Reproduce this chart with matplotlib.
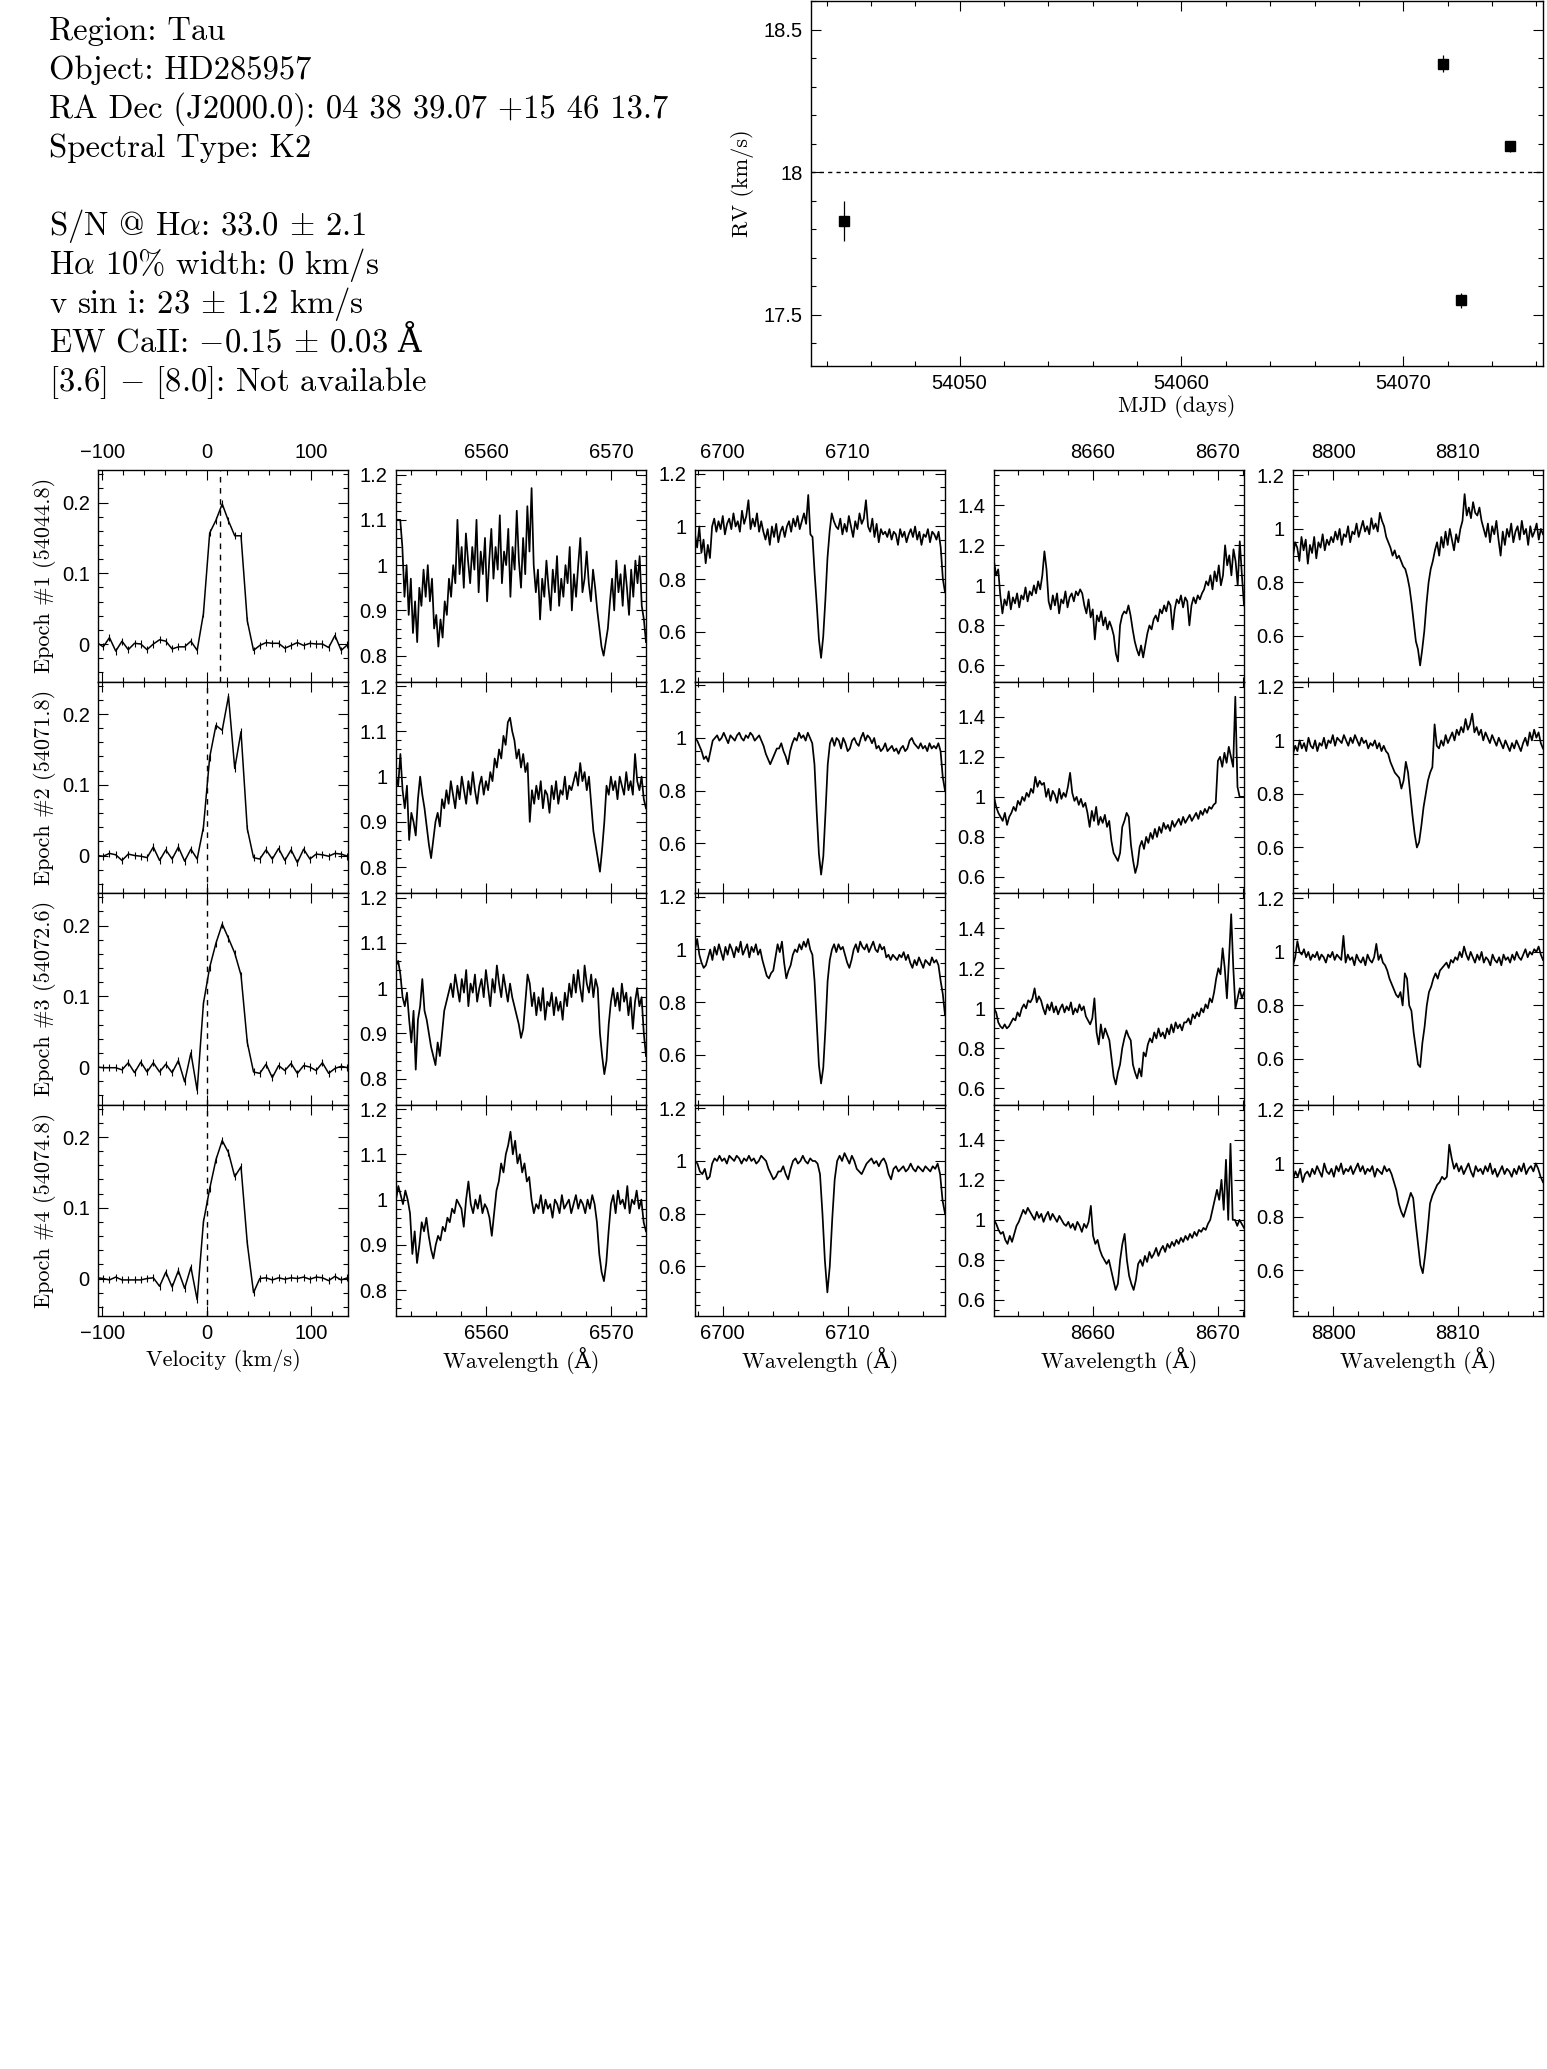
import numpy as np
import matplotlib
matplotlib.use('Agg')
import matplotlib.pyplot as plt
from matplotlib.ticker import MultipleLocator, FuncFormatter

plt.rcParams['mathtext.fontset'] = 'cm'
plt.rcParams['axes.unicode_minus'] = True

W, H = 1547, 2069

# ---- header info ----
info_lines = [
    'Region: Tau',
    'Object: HD285957',
    'RA Dec (J2000.0): 04 38 39.07 +15 46 13.7',
    'Spectral Type: K2',
    '',
    'S/N @ H$\\alpha$: 33.0 $\\pm$ 2.1',
    'H$\\alpha$ 10% width: 0 km/s',
    'v sin i: 23 $\\pm$ 1.2 km/s',
    'EW CaII: $-$0.15 $\\pm$ 0.03',
    '[3.6] $-$ [8.0]: Not available',
]
ew_unit = 'Å'

# ---- radial velocities ----
rv_mjd = [54044.8, 54071.8, 54072.6, 54074.8]
rv_val = [17.83, 18.38, 17.55, 18.09]
rv_err = [0.07, 0.03, 0.025, 0.02]
rv_ref = 18.0

# ---- H-alpha velocity profiles ----
epoch_labels = ['Epoch #1 (54044.8)', 'Epoch #2 (54071.8)',
                'Epoch #3 (54072.6)', 'Epoch #4 (54074.8)']
vel = [-105, -99, -93, -87, -81, -75, -69, -63, -57, -51, -45, -39, -33, -27,
       -21, -15, -9, -3, 3, 9, 15, 21, 27, 33, 39, 45, 51, 57, 63, 69, 75, 81,
       87, 93, 99, 105, 111, 117, 123, 129, 135]
prof1 = [0.002, -0.004, 0.009, -0.010, 0.004, -0.008, 0.001, 0.000, -0.008, 0.000,
         0.006, 0.004, -0.007, -0.004, -0.004, 0.004, -0.009, 0.043, 0.157, 0.175,
         0.198, 0.174, 0.153, 0.153, 0.033, -0.009, -0.002, 0.002, 0.001, 0.001,
         -0.006, -0.002, 0.002, -0.002, 0.001, 0.000, 0.000, -0.005, 0.012, -0.009, -0.001]
prof2 = [0.000, -0.001, 0.003, 0.001, -0.007, 0.002, 0.000, -0.001, -0.003, 0.012,
         -0.007, 0.008, -0.005, 0.012, -0.008, 0.009, -0.005, 0.040, 0.139, 0.184,
         0.177, 0.225, 0.123, 0.175, 0.038, -0.003, -0.005, 0.008, -0.005, 0.010,
         -0.007, 0.008, -0.010, 0.009, -0.005, 0.002, 0.001, -0.001, 0.003, 0.002, -0.001]
prof3 = [0.000, -0.001, -0.001, -0.001, -0.004, 0.006, -0.008, 0.007, -0.007, 0.006,
         -0.007, 0.004, -0.008, 0.009, -0.021, 0.020, -0.033, 0.090, 0.141, 0.175,
         0.202, 0.182, 0.161, 0.130, 0.035, -0.007, -0.009, 0.004, -0.015, 0.002,
         -0.005, 0.005, -0.009, 0.002, 0.000, -0.005, 0.006, -0.009, -0.002, 0.001, -0.001]
prof4 = [0.001, 0.000, -0.002, 0.002, -0.002, -0.002, -0.002, -0.002, 0.000, 0.001,
         -0.011, 0.009, -0.012, 0.011, -0.014, 0.016, -0.030, 0.080, 0.127, 0.168,
         0.195, 0.178, 0.144, 0.158, 0.050, -0.020, 0.000, 0.001, -0.002, 0.001,
         -0.001, 0.001, 0.000, 0.002, -0.001, 0.002, 0.001, -0.003, 0.003, -0.002, 0.001]
profiles = [prof1, prof2, prof3, prof4]
prof_err = 0.005
prof_center = [13, 0, 0, 0]

# ---- spectral windows (Angstrom) ----
windows = [(6552.8, 6572.8), (6697.8, 6717.8), (8652.1, 8672.1), (8796.8, 8816.8)]
win_ylim = [(0.743, 1.21), (0.41, 1.215), (0.52, 1.576), (0.43, 1.22)]
win_major = [0.1, 0.2, 0.2, 0.2]
win_minor = [0.02, 0.05, 0.05, 0.05]

# normalised flux, in percent
ha1 = [110, 110, 110, 104, 93, 100, 89, 97, 85, 92, 83, 95, 91, 99, 93, 100, 92, 97,
       86, 89, 82, 88, 84, 92, 89, 97, 93, 100, 96,
       110, 98, 104, 95, 107, 101, 96, 104, 99, 110, 94, 103, 98, 106, 92, 101, 108, 97,
       104, 99, 111, 96, 103, 100, 108, 93, 104, 99, 112, 101, 95, 106, 98, 113, 103, 117,
       100, 94,
       99, 88, 97, 93, 101, 95, 90, 99, 94, 102, 91, 97, 93, 100, 96, 104, 90, 98, 93, 100,
       106, 94, 97, 103, 96, 92, 99, 95,
       90, 86, 82, 80, 83, 86, 92,
       97, 90, 101, 94, 98, 91, 100, 95, 89, 99, 93, 101, 96, 102, 91, 88, 83]
ha2 = [100, 98, 105, 97, 93, 98, 86, 92, 90, 87, 95, 100, 96, 93, 89, 85, 82, 86,
       90, 92, 89, 95, 93, 97, 94, 99, 96, 93, 98, 95, 100, 97, 94, 99, 96, 101, 97, 94,
       98, 100, 96, 99, 97,
       101, 99, 104, 102, 106, 104, 109, 107, 112, 113, 110,
       108, 104, 106, 102, 105, 101, 103, 90,
       97, 94, 98, 95, 99, 93, 97, 96, 92, 98, 95, 99, 94, 97, 96, 100, 95, 98, 97, 99,
       101, 98, 103, 99, 101, 97, 100,
       94, 88, 85, 82, 79, 84, 90,
       98, 96, 100, 97, 99, 95, 100, 98, 96, 101, 97, 99, 96, 105, 99, 97, 100, 95, 93]
ha3 = [105, 106, 103, 98, 96, 99, 93, 88, 95, 82, 93, 96, 102, 95, 93, 90, 87, 85, 83,
       88, 85, 90, 95, 97, 99,
       101, 98, 103, 100, 97, 102, 99, 104, 96, 101, 99, 103, 97, 100, 102, 98, 104, 100,
       96, 102, 99, 105, 101, 98, 103, 100, 97, 101,
       98, 96, 94, 92, 89, 91, 97, 103, 101,
       96, 99, 94, 98, 95, 100, 93, 97, 96, 99, 94, 98, 95, 97, 93, 99, 96,
       101, 98, 103, 99, 104, 100, 97, 105, 101, 99, 103, 98, 102, 100,
       90, 85, 81, 84,
       92, 97, 100, 96, 99, 95, 101, 97, 99, 94, 98, 91, 97, 100, 96, 98, 90, 85]
ha4 = [100, 103, 101, 99, 102, 100, 97, 88, 93, 86, 90, 95, 93, 96, 92, 89, 87,
       90, 92, 91, 94, 93, 96, 95, 98, 97, 100, 99,
       98, 94, 100, 104, 99, 97, 100, 98, 101, 97, 99, 98, 96, 92, 97,
       102, 104, 108, 106, 110, 112, 115, 110, 113, 108, 110, 106, 108, 104, 105,
       100, 97, 99, 98, 101, 97, 100, 98, 99, 96, 100, 99, 97, 101, 98, 99, 100, 97, 99,
       101, 98, 100, 99, 97, 100, 98, 101, 99,
       95, 88, 84, 82, 86, 93,
       99, 101, 97, 102, 99, 100, 98, 103, 97, 100, 99, 102, 98, 100, 95, 93]

li1 = [97, 92, 100, 90, 95, 86, 93, 88,
       100, 103, 98, 102, 99, 104, 97, 101, 103, 99, 105, 100, 102, 98, 106, 101, 104, 110,
       99, 103, 100, 105, 98, 102,
       98, 95, 99, 93, 100, 96, 101, 94, 98, 100, 96,
       100, 102, 98, 103, 100, 104, 99, 102, 105, 101, 112, 97, 96,
       82, 70, 57, 50, 58, 72, 88, 98, 105, 102, 100,
       99, 103, 97, 101, 98, 104, 100, 96, 102, 99, 105, 101, 103, 110, 100, 98, 103, 96,
       101, 94, 99, 97,
       98, 96, 99, 95, 98, 97, 93, 99, 96, 98, 94, 97, 99, 96, 100, 95, 98, 93, 97, 96,
       99, 94, 98, 97, 95, 98, 92, 80, 75]
li2 = [100, 99, 97, 95, 92, 93, 91, 95,
       99, 100, 101, 99, 100, 102, 100, 98, 101, 100, 99, 101, 102, 100, 99, 101, 100, 102,
       101, 99, 100, 101, 99,
       97, 94, 92, 90, 92, 94, 96, 96, 98, 95, 93, 90,
       95, 98, 100, 99, 102, 100, 101, 99, 102, 100, 98,
       90, 72, 56, 48, 55, 72, 90,
       98, 100, 97, 100, 99, 96, 100, 98, 95, 96, 99, 100, 98, 97,
       100, 102, 99, 101, 100, 98, 100,
       96, 97, 95, 96, 98, 95, 96, 97, 95, 96, 94, 96, 97, 95, 96, 99, 100, 98,
       97, 96, 98, 96, 97, 95, 98, 96, 97, 96, 98, 95, 85, 80]
li3 = [100, 104, 98, 95, 93, 94,
       97, 100, 96, 101, 98, 102, 99, 96, 101, 98, 102, 100, 97, 101, 99, 103, 98, 100, 102,
       97, 101, 99, 102, 98, 100,
       96, 93, 90, 89, 91, 92, 97, 102, 99, 103, 95, 89, 92, 94,
       98, 100, 99, 102, 100, 103, 101, 104, 100, 98,
       88, 72, 56, 49, 55, 70, 88,
       96, 100, 102, 99, 102, 100, 101, 98, 95, 93, 96,
       100, 102, 99, 103, 101, 100, 102, 99, 101, 103, 100, 99, 102, 100, 101,
       97, 98, 96, 98, 97, 96, 98, 97, 99, 96, 98,
       95, 93, 96, 94, 97, 95, 93, 96, 95, 94, 97, 95, 96, 94, 88, 83, 75]
li4 = [100, 99, 96, 95, 97, 93, 94,
       99, 101, 100, 102, 100, 101, 99, 102, 101, 100, 102, 101, 99, 101, 100, 102, 100, 101,
       99, 100, 102, 101, 100,
       97, 95, 93, 94, 96, 96, 98, 95, 93,
       97, 100, 101, 99, 100, 102, 100, 99, 101, 100, 100, 99,
       95, 80, 62, 50, 60, 78, 93,
       100, 102, 100, 103, 101, 99, 102, 100, 97, 96, 95, 97,
       99, 100, 101, 99, 100, 98, 100, 101, 99, 95, 93,
       97, 98, 96, 97, 98, 96, 97, 99, 97, 96, 98, 97, 96, 98, 97, 96, 98, 97, 99,
       95, 85, 80]

ca1 = [112, 105, 108,
       95, 86, 93, 90, 97, 88, 94, 91, 96, 89, 95, 93, 99, 92, 97, 95, 100, 96, 102, 98,
       105, 117, 108,
       92, 88, 95, 90, 96, 86, 93, 91, 97, 89, 94, 96, 92, 97, 95, 98, 96,
       90, 86, 93, 84, 88, 73, 85, 82, 87, 80, 84, 78, 82, 79,
       75, 66, 62, 80, 85, 87, 86, 90, 85, 78, 72, 68, 65, 70, 64, 70,
       76, 80, 78, 83, 85, 82, 88, 86, 90, 87, 92,
       90, 78, 88, 93, 91, 95, 89, 94, 92, 80, 90, 94, 91, 95, 93, 96,
       98, 102, 100, 105, 98, 107, 102, 110, 100, 105,
       120, 110, 115, 105, 118, 112, 100, 122, 105, 90]
ca2 = [100, 95, 92, 90, 88, 92, 86, 90,
       92, 95, 93, 98, 96, 100, 98, 102, 100, 104, 102,
       110, 105, 108, 106, 107,
       100, 104, 98, 103, 101, 97, 104, 99, 102, 100, 105, 112,
       102, 98, 100, 96, 99, 95, 97,
       92, 85, 93, 88, 95, 86, 90, 87, 91, 85, 88,
       78, 72, 70, 68, 72, 85, 88, 92, 90, 76, 68, 62, 66,
       75, 78, 74, 80, 77, 82, 79, 84, 80, 85, 82, 87, 84, 86, 83, 88, 85, 87, 89, 86, 90,
       87, 89, 91, 88,
       90, 92, 89, 93, 91, 94, 92, 95, 94, 96, 97,
       118, 120, 115, 122, 117, 125, 120, 115, 150, 105, 100, 100, 100]
ca3 = [100, 98, 93, 91, 90, 92, 90, 91,
       93, 95, 94, 98, 96, 100, 102, 100, 104, 103, 105, 110, 103, 106, 104,
       100, 97, 102, 99, 103, 98, 101, 97, 100, 102, 98, 101, 99, 103, 97, 100, 98, 102, 99, 101,
       96, 94, 92, 95, 105,
       88, 82, 92, 85, 90, 87, 84,
       75, 66, 62, 68, 72, 80, 85, 89, 86, 84, 72, 68, 65, 70, 66,
       78, 76, 82, 85, 83, 88, 85, 90, 86, 88, 85, 90, 87, 92, 88, 93, 90, 92, 89, 93,
       93, 95, 92, 97, 95, 98, 96, 100, 98, 102, 100, 105, 103, 108,
       115, 120, 117, 130, 120, 105, 125, 147, 120, 100, 105, 110, 105, 108]
ca4 = [100, 98, 95, 93, 94, 90, 88, 92, 89,
       93, 97, 99, 102, 105, 103, 106, 104,
       102, 100, 104, 101, 103, 99, 102, 104, 100, 103, 101, 99, 102, 100, 98,
       97, 99, 96, 98, 95, 99, 97, 94, 98, 96, 99, 107,
       92, 88, 90, 85, 82, 80, 78, 80, 75, 70, 65, 68, 80, 88, 93, 80, 72, 68, 65, 70,
       78, 80, 77, 82, 79, 84, 81, 83, 86, 82, 85, 87, 84, 88, 86, 89, 87, 90, 88, 91,
       89, 92, 90, 93, 91, 94, 92, 95, 94, 96, 95, 98,
       100, 105, 110, 115, 110, 120, 105, 130, 100, 138,
       100, 100, 97, 100, 98, 96]

mg1 = [90, 95, 93, 88, 97, 92, 96, 87, 94, 91, 97, 89, 95, 93, 98, 92, 96, 94, 97,
       95, 99, 96, 100, 94, 98, 97, 101, 95, 99, 98, 102, 97, 100, 103, 99, 101, 98, 104,
       100, 102, 99, 106, 103, 101,
       97, 95, 93, 90, 92, 89, 90, 88, 86, 85, 82,
       78, 72, 65, 58, 55, 49, 55, 62, 72, 80, 85, 88,
       92, 95, 90, 97, 93, 99, 94, 100, 96, 92, 98, 95, 100,
       103, 113, 105, 108, 104, 110, 106, 105, 108, 103,
       100, 97, 102, 95, 101, 98, 103, 96, 90, 99, 94, 100, 97, 102, 95, 99, 101, 96, 103,
       98, 100, 94, 101, 97, 99, 102, 96, 100, 98]
mg2 = [95, 98, 96, 100, 97, 99, 96, 101, 98, 97, 100, 96, 99, 98, 101, 97, 100, 99, 102,
       98, 101, 100, 99, 102, 100, 98, 101, 99, 102, 100, 98, 101, 99, 100, 97, 99, 98, 100,
       97, 99, 96, 98,
       96, 95, 92, 90, 88, 87, 86, 82, 85, 92,
       88, 80, 72, 65, 60, 62, 68, 75, 80, 85, 88, 90, 106, 98,
       97, 100, 98, 102, 99, 101, 103, 100, 104, 102, 105, 103, 108, 104, 106, 110, 103, 105,
       102, 104, 100, 103, 101, 99, 102, 100, 98, 101, 99, 97, 100, 98, 96, 99, 97, 100,
       98, 96, 99, 101, 98, 103, 100, 104, 101, 103, 99, 97]
mg3 = [95, 98, 104, 100, 99, 101, 98, 100, 97, 99, 98, 100, 97, 99, 98, 96, 99, 98, 100,
       97, 99, 98,
       97, 106, 96, 99, 97, 98, 95, 99, 97, 96, 98, 95, 99, 97, 96, 98, 103, 97, 99, 96,
       95, 93, 90, 88, 86, 84, 83, 85, 80, 92, 90,
       80, 78, 70, 64, 58, 57, 66, 72, 80, 85, 87, 90, 92, 90, 93, 94,
       95, 96, 94, 97, 96, 98, 97, 100, 98, 102,
       99, 97, 100, 98, 96, 99, 97, 100, 96, 98, 97, 95, 99, 97, 96, 98, 95, 99, 97, 98,
       96, 99, 97, 100, 98, 97, 99, 101, 98, 100, 99, 101, 100, 102, 99, 97]
mg4 = [94, 97, 95, 98, 93, 96, 97, 95, 98, 96, 99, 97, 95, 100, 97, 96, 98, 95, 99, 97,
       100, 96, 98, 97, 99, 96, 98, 100, 97, 99, 96, 98, 97, 99, 95, 98, 97, 96, 99, 97,
       98, 96,
       93, 90, 85, 82, 80, 83, 86, 89, 87, 78, 70, 62, 59, 66, 75, 85, 88, 90,
       92, 93, 95, 94, 95, 107, 102,
       98, 100, 97, 99, 96, 98, 100, 97, 95, 99, 97, 98, 96, 99, 97, 100, 96, 98, 95, 97,
       99, 96, 98, 97, 95, 98, 96, 99, 97, 100, 96, 98, 99, 97, 100, 98, 95, 93]

spectra = [[ha1, li1, ca1, mg1],
           [ha2, li2, ca2, mg2],
           [ha3, li3, ca3, mg3],
           [ha4, li4, ca4, mg4]]

# ---- styling helpers ----
tick_family = 'Liberation Sans'
tick_size = 14.5
lab_font = ['cmr10', 'DejaVu Serif']
lab_size = 16


def fmt(v, pos):
    return ('%g' % v).replace('-', '\u2212')


def style(ax, top_lab=False, bottom_lab=False):
    ax.tick_params(which='both', direction='in', top=True, right=True,
                   labeltop=top_lab, labelbottom=bottom_lab, width=0.8, pad=6)
    ax.tick_params(which='major', length=7)
    ax.tick_params(which='minor', length=3.8)
    for s in ax.spines.values():
        s.set_linewidth(1.0)
    ax.xaxis.set_major_formatter(FuncFormatter(fmt))
    ax.yaxis.set_major_formatter(FuncFormatter(fmt))
    for t in ax.get_xticklabels() + ax.get_yticklabels():
        t.set_fontfamily(tick_family)
        t.set_fontsize(tick_size)


fig = plt.figure(figsize=(W / 100, H / 100), dpi=100)

# header text
y0 = 40
ew_text = None
for i, line in enumerate(info_lines):
    if line:
        t = fig.text(49 / W, 1 - (y0 + 39 * i) / H, line, fontsize=23.5,
                     family=lab_font, va='baseline', ha='left')
        if line.startswith('EW'):
            ew_text = t

# the Angstrom sign goes in as plain text so the font fallback supplies it
fig.canvas.draw()
bb = ew_text.get_window_extent()
fig.text((bb.x1 + 9) / W, ew_text.get_position()[1], ew_unit, fontsize=23.5,
         family=lab_font, va='baseline', ha='left')

# RV panel
ax = fig.add_axes([811 / W, 1 - 366 / H, 732 / W, 365 / H])
ax.errorbar(rv_mjd, rv_val, yerr=rv_err, fmt='s', color='k', ms=7,
            elinewidth=0.9, capsize=0)
ax.axhline(rv_ref, color='k', lw=1.0, ls=(0, (3, 3)))
ax.set_xlim(54043.3, 54076.3)
ax.set_ylim(17.32, 18.6)
ax.xaxis.set_major_locator(MultipleLocator(10))
ax.xaxis.set_minor_locator(MultipleLocator(2))
ax.yaxis.set_major_locator(MultipleLocator(0.5))
ax.yaxis.set_minor_locator(MultipleLocator(0.1))
style(ax, bottom_lab=True)
ax.set_xlabel('MJD (days)', family=lab_font, fontsize=lab_size, va='center')
ax.xaxis.set_label_coords(0.5, -0.11)
ax.set_ylabel('RV (km/s)', family=lab_font, fontsize=lab_size, va='center')
ax.yaxis.set_label_coords(-0.093, 0.5)

# panel grid
col_left = [98, 396, 695, 994, 1293]
col_w = 250
row_top = 470
row_h = 211.5

for r in range(4):
    bottom = 1 - (row_top + (r + 1) * row_h) / H
    # velocity profile
    ax = fig.add_axes([col_left[0] / W, bottom, col_w / W, row_h / H])
    ax.errorbar(vel, profiles[r], yerr=prof_err, color='k', lw=1.1,
                elinewidth=0.8, capsize=0)
    ax.axvline(prof_center[r], color='k', lw=1.0, ls=(0, (4, 4)))
    ax.set_xlim(-104, 135.5)
    ax.set_ylim(-0.053, 0.246)
    ax.xaxis.set_major_locator(MultipleLocator(100))
    ax.xaxis.set_minor_locator(MultipleLocator(20))
    ax.yaxis.set_major_locator(MultipleLocator(0.1))
    ax.yaxis.set_minor_locator(MultipleLocator(0.02))
    style(ax, top_lab=(r == 0), bottom_lab=(r == 3))
    ax.set_ylabel(epoch_labels[r], family=lab_font, fontsize=lab_size, va='center')
    ax.yaxis.set_label_coords(-0.215, 0.5)
    if r == 3:
        ax.set_xlabel('Velocity (km/s)', family=lab_font, fontsize=lab_size, va='center')
        ax.xaxis.set_label_coords(0.5, -0.21)

    for c in range(4):
        ax = fig.add_axes([col_left[c + 1] / W, bottom, col_w / W, row_h / H])
        flux = np.array(spectra[r][c]) / 100.0
        lo, hi = windows[c]
        wl = np.linspace(lo, hi, len(flux))
        ax.plot(wl, flux, color='k', lw=1.25)
        ax.set_xlim(lo, hi)
        ax.set_ylim(*win_ylim[c])
        ax.xaxis.set_major_locator(MultipleLocator(10))
        ax.xaxis.set_minor_locator(MultipleLocator(2))
        ax.yaxis.set_major_locator(MultipleLocator(win_major[c]))
        ax.yaxis.set_minor_locator(MultipleLocator(win_minor[c]))
        style(ax, top_lab=(r == 0), bottom_lab=(r == 3))
        if r == 3:
            ax.set_xlabel('Wavelength (Å)', family=lab_font, fontsize=lab_size, va='center')
            ax.xaxis.set_label_coords(0.5, -0.21)

fig.savefig('out.png', dpi=100)
